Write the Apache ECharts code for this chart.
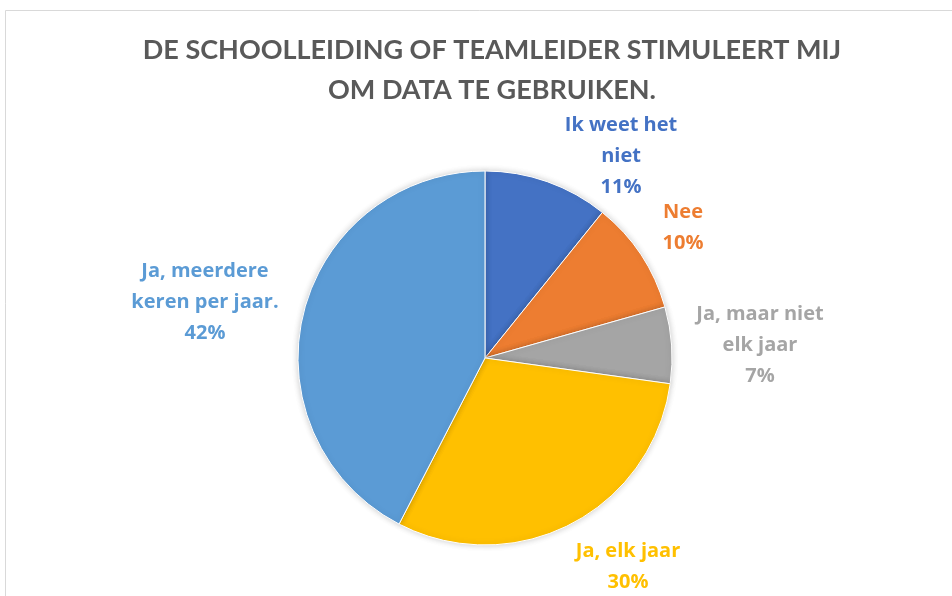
<!DOCTYPE html>
<html>
<head>
<meta charset="utf-8">
<script src="https://cdn.jsdelivr.net/npm/echarts@6/dist/echarts.min.js"></script>
<style>
html,body{margin:0;padding:0;background:#fff;}
#chart{width:952px;height:596px;}
</style>
</head>
<body>
<div id="chart"></div>
<script>
const titleLines = ['DE SCHOOLLEIDING OF TEAMLEIDER STIMULEERT MIJ', 'OM DATA TE GEBRUIKEN.'];
const categories = ['Ik weet het niet', 'Nee', 'Ja, maar niet elk jaar', 'Ja, elk jaar', 'Ja, meerdere keren per jaar.'];
const labelWrapped = ['Ik weet het\nniet', 'Nee', 'Ja, maar niet\nelk jaar', 'Ja, elk jaar', 'Ja, meerdere\nkeren per jaar.'];
const values = [10.8, 9.8, 6.6, 30.4, 42.4];
const colors = ['#4472C4', '#ED7D31', '#A5A5A5', '#FFC000', '#5B9BD5'];
// label anchor positions (centre of each text block)
const labelX = [621, 683, 760, 628, 205];
const labelY = [156, 228, 345, 567, 302];

const chart = echarts.init(document.getElementById('chart'));
chart.setOption({
  backgroundColor: '#fff',
  graphic: [{
    type: 'rect',
    shape: {x: 5.5, y: 10.5, width: 1000, height: 700},
    style: {fill: 'none', stroke: '#d9d9d9', lineWidth: 1},
    silent: true
  }],
  title: {
    text: titleLines.join('\n'),
    left: 487,
    textAlign: 'center',
    top: 25,
    textStyle: {
      fontFamily: 'Lato', fontWeight: 'bold', fontSize: 27, color: '#595959', lineHeight: 40
    }
  },
  series: [{
    type: 'pie',
    center: [485, 358],
    radius: [0, 187],
    startAngle: 90,
    clockwise: true,
    percentPrecision: 0,
    animation: false,
    data: categories.map((c, i) => ({name: c, value: values[i], itemStyle: {color: colors[i]}})),
    itemStyle: {borderColor: '#fff', borderWidth: 1, shadowBlur: 6, shadowColor: 'rgba(0,0,0,0.2)'},
    label: {
      show: true,
      position: 'outside',
      formatter: p => labelWrapped[p.dataIndex] + '\n' + p.percent + '%',
      color: 'inherit',
      fontFamily: 'Open Sans', fontWeight: 'bold', fontSize: 20, lineHeight: 31,
      align: 'center'
    },
    labelLine: {show: false},
    labelLayout: p => ({x: labelX[p.dataIndex], y: labelY[p.dataIndex], align: 'center', verticalAlign: 'middle'}),
    emphasis: {disabled: true}
  }]
});
</script>
</body>
</html>
